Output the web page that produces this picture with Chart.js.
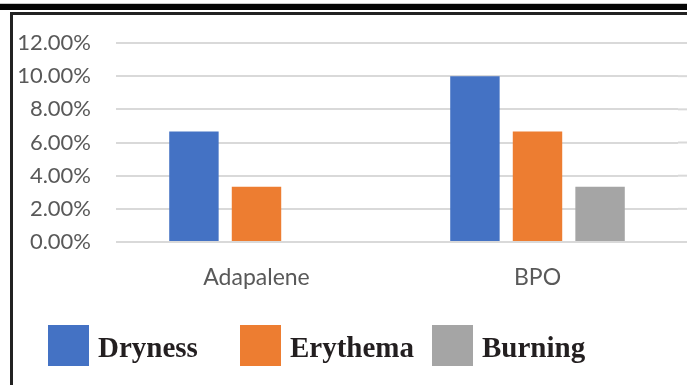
<!DOCTYPE html>
<html>
<head>
<meta charset="utf-8">
<script src="https://cdn.jsdelivr.net/npm/chart.js@4/dist/chart.umd.min.js"></script>
<style>
  html, body { margin: 0; padding: 0; background: #fff; }
  #wrap { position: relative; width: 687px; height: 385px; overflow: hidden; }
  #chart { position: absolute; left: 0; top: 0; }
  .band { position: absolute; left: 0; top: 4px; width: 687px; height: 6px; background: #050505; }
  .band-edge { position: absolute; left: 0; top: 3px; width: 687px; height: 1px; background: #c8c8c8; }
  .frame { position: absolute; left: 10px; top: 12px; width: 700px; height: 400px;
           border-top: 3px solid #222; border-left: 3px solid #222; box-sizing: border-box; }
</style>
</head>
<body>
<div id="wrap">
  <canvas id="chart" width="687" height="385"></canvas>
  <div class="band-edge"></div>
  <div class="band"></div>
  <div class="frame"></div>
</div>
<script>
// Treatment groups on the x axis
const categories = ['Adapalene', 'BPO'];

// Share of patients with each side effect (%)
const dryness  = [6.67, 10.00];
const erythema = [3.33, 6.67];
const burning  = [0, 3.33];

const seriesNames  = ['Dryness', 'Erythema', 'Burning'];
const seriesColors = ['#4472C4', '#ED7D31', '#A5A5A5'];

// Y axis ticks
const yTicks = [0, 2, 4, 6, 8, 10, 12];

const yFont = { family: 'Lato, "Open Sans", sans-serif', size: 22 };
const xFont = { family: 'Lato, "Open Sans", sans-serif', size: 23 };
const tickColor = '#595959';

// Horizontal gridlines run on to the right edge of the frame
const gridRunout = {
  id: 'gridRunout',
  beforeDatasetsDraw(chart) {
    const { ctx, chartArea, scales } = chart;
    ctx.save();
    ctx.strokeStyle = '#d9d9d9';
    ctx.lineWidth = 2;
    yTicks.forEach(v => {
      const y = scales.y.getPixelForValue(v);
      ctx.beginPath();
      ctx.moveTo(chartArea.right, y);
      ctx.lineTo(chart.width, y);
      ctx.stroke();
    });
    ctx.restore();
  }
};

// Legend row: fixed-width slots with square swatches and bold serif labels
const slotLegend = {
  id: 'slotLegend',
  afterDraw(chart) {
    const { ctx } = chart;
    ctx.save();
    ctx.font = 'bold 29px "Liberation Serif", "Times New Roman", serif';
    ctx.textBaseline = 'alphabetic';
    ctx.textAlign = 'left';
    chart.data.datasets.forEach((ds, i) => {
      const x = 48 + 192 * i;
      ctx.fillStyle = ds.backgroundColor;
      ctx.fillRect(x, 325, 41, 41);
      ctx.fillStyle = '#231f20';
      ctx.fillText(ds.label, x + 50, 357);
    });
    ctx.restore();
  }
};

const seriesValues = [dryness, erythema, burning];

new Chart(document.getElementById('chart'), {
  type: 'bar',
  data: {
    labels: categories,
    datasets: seriesNames.map((name, i) => ({
      label: name,
      data: seriesValues[i],
      backgroundColor: seriesColors[i],
      borderWidth: 0,
      categoryPercentage: 0.668,
      barPercentage: 0.79
    }))
  },
  options: {
    responsive: false,
    devicePixelRatio: 1,
    animation: false,
    layout: { padding: { left: 0, right: 9, top: 43, bottom: 83 } },
    plugins: { legend: { display: false }, tooltip: { enabled: false } },
    scales: {
      x: {
        grid: { display: false },
        border: { display: false },
        ticks: { font: xFont, color: tickColor, padding: 14 },
        afterFit(scale) { scale.height = 60; }
      },
      y: {
        min: 0,
        max: 12,
        afterBuildTicks(scale) { scale.ticks = yTicks.map(v => ({ value: v })); },
        grid: { color: '#d9d9d9', lineWidth: 2, drawTicks: false },
        border: { display: false },
        ticks: {
          font: yFont,
          color: tickColor,
          padding: 25,
          callback: v => v.toFixed(2) + '%'
        },
        afterFit(scale) { scale.width = 116; }
      }
    }
  },
  plugins: [gridRunout, slotLegend]
});
</script>
</body>
</html>
